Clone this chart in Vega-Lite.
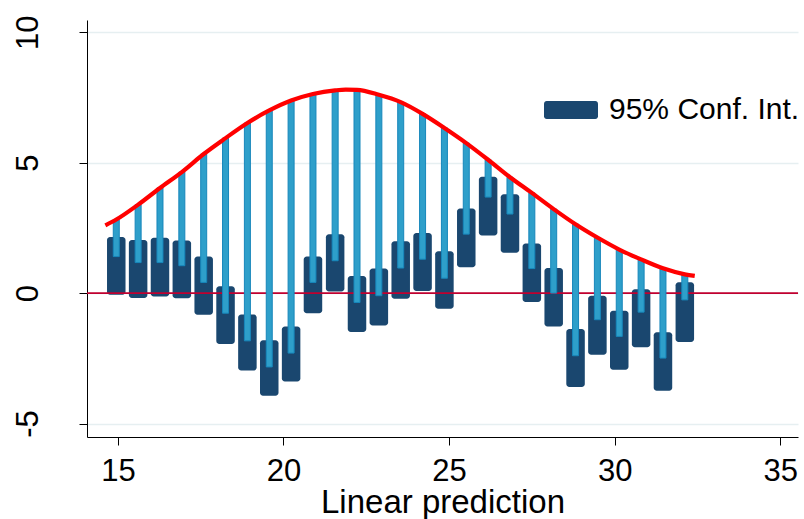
{
  "$schema": "https://vega.github.io/schema/vega-lite/v6.json",
  "width": 711,
  "height": 417,
  "autosize": {"type": "none"},
  "padding": {"left": 87, "top": 20, "right": 6, "bottom": 82},
  "background": "white",
  "config": {
    "view": {"stroke": null},
    "font": "Liberation Sans",
    "axis": {
      "domainColor": "#000000", "domainWidth": 1,
      "tickColor": "#000000", "tickSize": 8, "tickWidth": 1,
      "labelFont": "Liberation Sans", "labelFontSize": 31, "labelColor": "#000000",
      "gridColor": "#e6eff1", "gridWidth": 1.5,
      "titleFont": "Liberation Sans", "titleFontSize": 33, "titleFontWeight": "normal", "titleColor": "#000000",
      "labelExpr": "replace(datum.label, '\u2212', '-')"
    },
    "axisX": {"grid": false, "labelPadding": 35, "labelBaseline": "alphabetic", "labelFlush": false, "labelOverlap": false, "titleY": 75, "titleBaseline": "alphabetic"},
    "axisY": {"grid": true, "labelAngle": -90, "labelAlign": "center", "labelBaseline": "alphabetic", "labelPadding": 42, "labelOverlap": false},
    "legend": {
      "orient": "none", "legendX": 457, "legendY": 63, "padding": 0,
      "symbolType": "M-0.9,-0.333H0.9A0.1,0.1 0 0 1 1,-0.233V0.233A0.1,0.1 0 0 1 0.9,0.333H-0.9A0.1,0.1 0 0 1 -1,0.233V-0.233A0.1,0.1 0 0 1 -0.9,-0.333Z",
      "symbolSize": 2916, "symbolStrokeWidth": 0, "symbolOpacity": 1,
      "labelFont": "Liberation Sans", "labelFontSize": 30, "labelColor": "#000000", "labelOffset": 11, "labelLimit": 400
    }
  },
  "datasets": {
    "ref": [{"value": 0}],
    "bars": [
      {"series": "95% Conf. Int.", "x": 14.95, "top": 2.82, "hi": 2.15, "lo": -0.06, "est": 1.40},
      {"series": "95% Conf. Int.", "x": 15.61, "top": 3.39, "hi": 2.04, "lo": -0.19, "est": 1.17},
      {"series": "95% Conf. Int.", "x": 16.27, "top": 4.03, "hi": 2.12, "lo": -0.13, "est": 1.17},
      {"series": "95% Conf. Int.", "x": 16.93, "top": 4.64, "hi": 2.02, "lo": -0.20, "est": 1.05},
      {"series": "95% Conf. Int.", "x": 17.59, "top": 5.33, "hi": 1.40, "lo": -0.83, "est": 0.41},
      {"series": "95% Conf. Int.", "x": 18.25, "top": 5.94, "hi": 0.26, "lo": -1.95, "est": -0.77},
      {"series": "95% Conf. Int.", "x": 18.91, "top": 6.52, "hi": -0.82, "lo": -2.97, "est": -1.83},
      {"series": "95% Conf. Int.", "x": 19.57, "top": 7.00, "hi": -1.81, "lo": -3.93, "est": -2.83},
      {"series": "95% Conf. Int.", "x": 20.23, "top": 7.38, "hi": -1.28, "lo": -3.39, "est": -2.30},
      {"series": "95% Conf. Int.", "x": 20.89, "top": 7.63, "hi": 1.40, "lo": -0.77, "est": 0.41},
      {"series": "95% Conf. Int.", "x": 21.56, "top": 7.77, "hi": 2.26, "lo": 0.06, "est": 1.24},
      {"series": "95% Conf. Int.", "x": 22.22, "top": 7.79, "hi": 0.66, "lo": -1.49, "est": -0.36},
      {"series": "95% Conf. Int.", "x": 22.88, "top": 7.60, "hi": 0.94, "lo": -1.24, "est": -0.10},
      {"series": "95% Conf. Int.", "x": 23.54, "top": 7.32, "hi": 1.99, "lo": -0.22, "est": 0.96},
      {"series": "95% Conf. Int.", "x": 24.20, "top": 6.87, "hi": 2.30, "lo": 0.08, "est": 1.30},
      {"series": "95% Conf. Int.", "x": 24.86, "top": 6.33, "hi": 1.60, "lo": -0.60, "est": 0.57},
      {"series": "95% Conf. Int.", "x": 25.52, "top": 5.75, "hi": 3.24, "lo": 0.99, "est": 2.26},
      {"series": "95% Conf. Int.", "x": 26.18, "top": 5.11, "hi": 4.46, "lo": 2.21, "est": 3.68},
      {"series": "95% Conf. Int.", "x": 26.84, "top": 4.44, "hi": 3.79, "lo": 1.55, "est": 3.03},
      {"series": "95% Conf. Int.", "x": 27.50, "top": 3.84, "hi": 1.90, "lo": -0.34, "est": 0.94},
      {"series": "95% Conf. Int.", "x": 28.16, "top": 3.22, "hi": 0.96, "lo": -1.28, "est": 0.00},
      {"series": "95% Conf. Int.", "x": 28.82, "top": 2.64, "hi": -1.38, "lo": -3.60, "est": -2.40},
      {"series": "95% Conf. Int.", "x": 29.48, "top": 2.13, "hi": -0.10, "lo": -2.36, "est": -1.02},
      {"series": "95% Conf. Int.", "x": 30.14, "top": 1.67, "hi": -0.68, "lo": -2.94, "est": -1.66},
      {"series": "95% Conf. Int.", "x": 30.80, "top": 1.29, "hi": 0.15, "lo": -2.08, "est": -0.73},
      {"series": "95% Conf. Int.", "x": 31.46, "top": 0.95, "hi": -1.50, "lo": -3.74, "est": -2.49},
      {"series": "95% Conf. Int.", "x": 32.12, "top": 0.72, "hi": 0.42, "lo": -1.87, "est": -0.26}
    ],
    "curve": [
      {"x": 14.62, "y": 2.60},
      {"x": 14.95, "y": 2.82},
      {"x": 15.61, "y": 3.39},
      {"x": 16.27, "y": 4.03},
      {"x": 16.93, "y": 4.64},
      {"x": 17.59, "y": 5.33},
      {"x": 18.25, "y": 5.94},
      {"x": 18.91, "y": 6.52},
      {"x": 19.57, "y": 7.00},
      {"x": 20.23, "y": 7.38},
      {"x": 20.89, "y": 7.63},
      {"x": 21.56, "y": 7.77},
      {"x": 21.88, "y": 7.80},
      {"x": 22.22, "y": 7.79},
      {"x": 22.88, "y": 7.60},
      {"x": 23.54, "y": 7.32},
      {"x": 24.20, "y": 6.87},
      {"x": 24.86, "y": 6.33},
      {"x": 25.52, "y": 5.75},
      {"x": 26.18, "y": 5.11},
      {"x": 26.84, "y": 4.44},
      {"x": 27.50, "y": 3.84},
      {"x": 28.16, "y": 3.22},
      {"x": 28.82, "y": 2.64},
      {"x": 29.48, "y": 2.13},
      {"x": 30.14, "y": 1.67},
      {"x": 30.80, "y": 1.29},
      {"x": 31.46, "y": 0.95},
      {"x": 32.12, "y": 0.72},
      {"x": 32.42, "y": 0.66}
    ]
  },
  "layer": [
    {
      "data": {"name": "bars"},
      "mark": {"type": "bar", "width": 18.5, "cornerRadius": 3},
      "encoding": {
        "x": {"field": "x", "type": "quantitative", "title": "Linear prediction", "scale": {"domain": [14.217, 35.387], "nice": false, "zero": false}, "axis": {"values": [15, 20, 25, 30, 35]}},
        "y": {"field": "lo", "type": "quantitative", "title": null, "scale": {"domain": [-5.515, 10.467], "nice": false, "zero": false}, "axis": {"values": [-5, 0, 5, 10]}},
        "y2": {"field": "hi"},
        "color": {"field": "series", "type": "nominal", "scale": {"range": ["#1a476f"]}, "legend": {"title": null}}
      }
    },
    {
      "data": {"name": "ref"},
      "mark": {"type": "rule", "color": "#c0002f", "strokeWidth": 1.6},
      "encoding": {
        "y": {"field": "value", "type": "quantitative", "title": null, "scale": {"domain": [-5.515, 10.467], "nice": false, "zero": false}, "axis": {"values": [-5, 0, 5, 10]}}
      }
    },
    {
      "data": {"name": "bars"},
      "mark": {"type": "bar", "width": 6, "color": "#2e9fca", "stroke": "#1787bb", "strokeWidth": 1},
      "encoding": {
        "x": {"field": "x", "type": "quantitative", "title": "Linear prediction", "scale": {"domain": [14.217, 35.387], "nice": false, "zero": false}, "axis": {"values": [15, 20, 25, 30, 35]}},
        "y": {"field": "est", "type": "quantitative", "title": null, "scale": {"domain": [-5.515, 10.467], "nice": false, "zero": false}, "axis": {"values": [-5, 0, 5, 10]}},
        "y2": {"field": "top"}
      }
    },
    {
      "data": {"name": "curve"},
      "mark": {"type": "line", "color": "#ff0000", "strokeWidth": 4.2, "interpolate": "monotone", "strokeCap": "butt"},
      "encoding": {
        "x": {"field": "x", "type": "quantitative", "title": "Linear prediction", "scale": {"domain": [14.217, 35.387], "nice": false, "zero": false}, "axis": {"values": [15, 20, 25, 30, 35]}},
        "y": {"field": "y", "type": "quantitative", "title": null, "scale": {"domain": [-5.515, 10.467], "nice": false, "zero": false}, "axis": {"values": [-5, 0, 5, 10]}}
      }
    }
  ]
}
